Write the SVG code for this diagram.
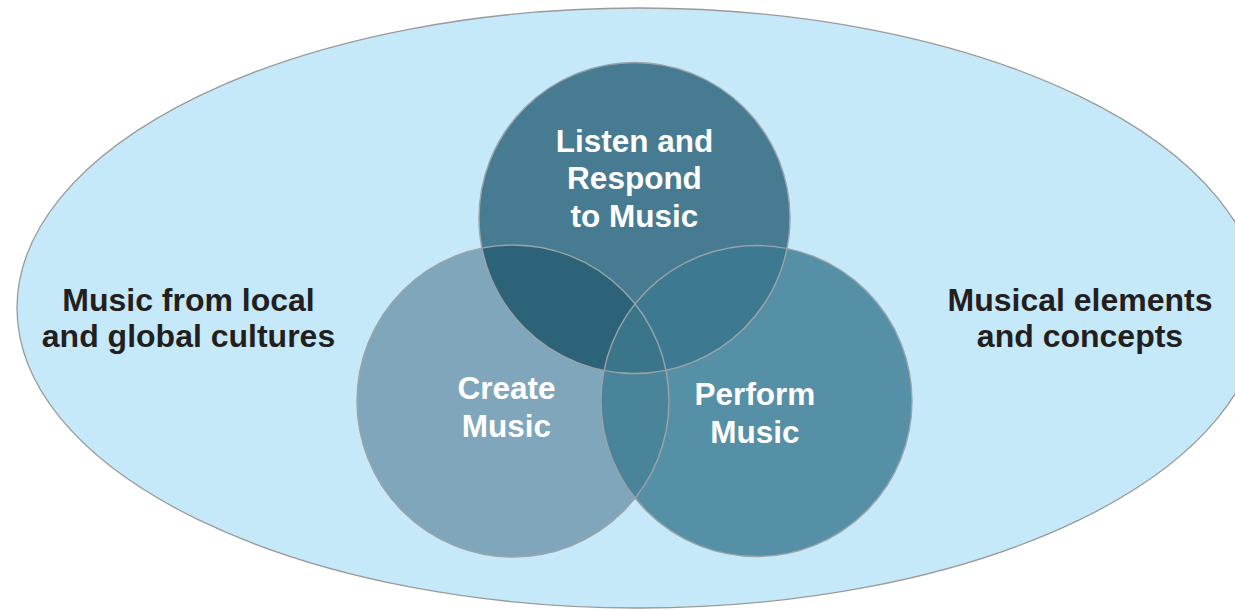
<svg xmlns="http://www.w3.org/2000/svg" width="1235" height="610" viewBox="0 0 1235 610">
  <style>
    .lbl { font-family: "Liberation Sans", Arial, sans-serif; font-weight: bold; font-size: 31.5px; text-anchor: middle; }
    .dark { fill: #231f20; font-size: 32px; }
    .white { fill: #ffffff; }
    .edge { fill: none; stroke: #9aa4a9; stroke-width: 1.4; }
  </style>
  <defs>
    <clipPath id="clipTop"><circle cx="634.5" cy="218" r="155.5"/></clipPath>
    <clipPath id="clipCreate"><circle cx="513" cy="401" r="156"/></clipPath>
    <clipPath id="clipPerform"><circle cx="756.5" cy="401" r="155.5"/></clipPath>
  </defs>

  <g id="context">
    <ellipse cx="639" cy="308" rx="622" ry="300" fill="#c6e9f9" stroke="#9a9a9a" stroke-width="1.3"/>
    <text class="lbl dark" x="188.5" y="311">Music from local</text>
    <text class="lbl dark" x="188.5" y="347">and global cultures</text>
    <text class="lbl dark" x="1080" y="311">Musical elements</text>
    <text class="lbl dark" x="1080" y="347">and concepts</text>
  </g>

  <g id="fills">
    <circle cx="513" cy="401" r="156" fill="#7fa6ba"/>
    <circle cx="756.5" cy="401" r="155.5" fill="#5690a6"/>
    <circle cx="634.5" cy="218" r="155.5" fill="#477b91"/>
    <circle cx="756.5" cy="401" r="155.5" fill="#4a849a" clip-path="url(#clipCreate)"/>
    <circle cx="513" cy="401" r="156" fill="#2d6379" clip-path="url(#clipTop)"/>
    <circle cx="756.5" cy="401" r="155.5" fill="#3d7a92" clip-path="url(#clipTop)"/>
    <g clip-path="url(#clipTop)">
      <circle cx="756.5" cy="401" r="155.5" fill="#3a758a" clip-path="url(#clipCreate)"/>
    </g>
  </g>

  <g id="node-listen">
    <circle class="edge" cx="634.5" cy="218" r="155.5"/>
    <text class="lbl white" x="634.5" y="152">Listen and</text>
    <text class="lbl white" x="634.5" y="189">Respond</text>
    <text class="lbl white" x="634.5" y="227">to Music</text>
  </g>

  <g id="node-create">
    <circle class="edge" cx="513" cy="401" r="156"/>
    <text class="lbl white" x="506.5" y="399">Create</text>
    <text class="lbl white" x="506.5" y="437">Music</text>
  </g>

  <g id="node-perform">
    <circle class="edge" cx="756.5" cy="401" r="155.5"/>
    <text class="lbl white" x="755" y="405">Perform</text>
    <text class="lbl white" x="755" y="443">Music</text>
  </g>

  <g id="connectors"/>
</svg>
